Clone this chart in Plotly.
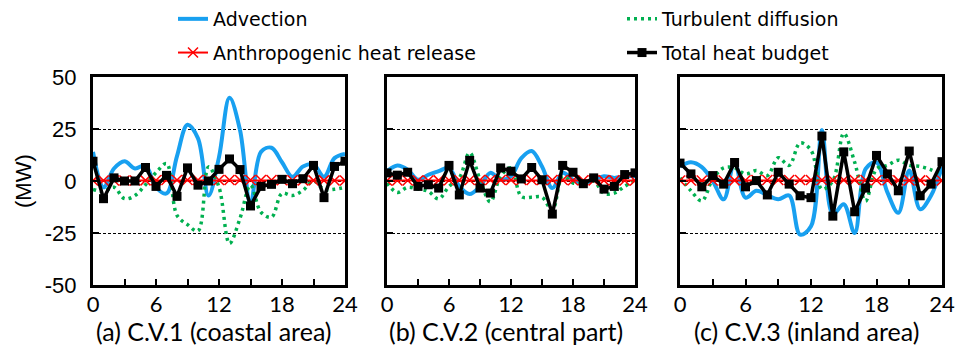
import plotly.graph_objects as go

hours = list(range(25))
x_tick_vals = [0, 3, 6, 9, 12, 15, 18, 21, 24]
x_tick_text = ["0", "", "6", "", "12", "", "18", "", "24"]
y_tick_vals = [-50, -25, 0, 25, 50]
y_tick_text = ["-50", "-25", "0", "25", "50"]

panel_titles = ["(a) C.V.1 (coastal area)", "(b) C.V.2 (central part)", "(c) C.V.3 (inland area)"]

# C.V.1 (coastal area)
adv1 = [14, -3, 6, 9.5, 6, 7.5, -3, -6, 12, 27, 20.5, -7, 11.5, 40, 24.5, -11, 14, 16, 9, 2, 7, 8, 2, 11, 13]
turb1 = [-4, -5, -3, -8.5, -7, -1.8, 4, 8.4, -16.5, -21, -24, 6.8, -3, -30, -18, -2, -15, -17.4, -6, -7, -4.5, 0, -4, -4, -3]
anth1 = [0.2, 0.2, 0.2, 0.2, 0.2, 0.3, 0.4, 0.5, 0.5, 0.5, 0.5, 0.5, 0.5, 0.5, 0.5, 0.5, 0.5, 0.5, 0.4, 0.4, 0.3, 0.3, 0.3, 0.2, 0.2]
total1 = [9.5, -8.5, 1.5, 0, 0, 6.5, -2.6, 2.7, -7.4, 6.3, -2, 0, 5.6, 10.6, 5.5, -12, -2.6, -1.6, 0.8, -1.3, 1.1, 7.5, -8, 7, 9.5]

# C.V.2 (central part)
adv2 = [4.7, 7.5, 5.5, 0.6, 3, 4.7, 6.3, -2.6, -6.3, -2.6, 3.9, 0.6, 2.3, 11, 14.4, 7, -3.4, 3.9, 0.6, -1, 0.6, 2.3, 1.5, 2.3, 2.3]
turb2 = [-1, -5.5, -3, -3.9, -5, -8.6, -2.6, 1.5, 13.6, 0.6, -10, 2.3, 6.3, -7.5, -7.8, -7.8, -14, 2.3, -1, -1, 0, -6, -5.8, -2.6, 0.6]
anth2 = [0.2, 0.2, 0.2, 0.2, 0.2, 0.3, 0.4, 0.5, 0.5, 0.5, 0.5, 0.5, 0.5, 0.5, 0.5, 0.5, 0.5, 0.5, 0.4, 0.4, 0.3, 0.3, 0.3, 0.2, 0.2]
total2 = [3.9, 2.8, 4.2, -2.6, -1.8, -3.4, 7.5, -6.7, 9.9, -3.4, -5.8, 6.3, 4.7, 1, 6.5, 0.6, -15.9, 7.5, 4.2, -1.3, 1.5, -3.9, -2.6, 3.1, 3.9]

# C.V.3 (inland area)
adv3 = [7, 9, 6.7, 0, -8.8, 9, -8, -4.7, -6.8, -8.8, -7, -25.8, -21.8, 24.5, -16, -11.2, -25, 5.8, 9, -5.5, -15.3, 5, -13.6, -7, 6.7]
turb3 = [1.5, -4.7, -9.6, 1, 6.3, 6.3, 3.4, 5, 2.6, 11.2, 7.5, 18.3, 14.8, -3.9, 0, 22.9, 9, -9.6, 5.8, 7.5, 10, 7.5, 7, 5.4, 3]
anth3 = [0.2, 0.2, 0.2, 0.2, 0.2, 0.3, 0.4, 0.5, 0.5, 0.5, 0.5, 0.5, 0.5, 0.5, 0.5, 0.5, 0.5, 0.5, 0.4, 0.4, 0.3, 0.3, 0.3, 0.2, 0.2]
total3 = [8.6, 3.4, -2.8, 2.6, -1.5, 8.9, -2.8, 0.2, -6.7, 4.2, -1.5, -7.1, -8, 21.6, -16.9, 14, -14.8, -3.4, 12.3, 3.4, -4.7, 14.4, -7.1, -1.5, 9.3]

panels = [(adv1, turb1, anth1, total1), (adv2, turb2, anth2, total2), (adv3, turb3, anth3, total3)]

W, H = 957, 356
x_domains = [(93 / W, 345 / W), (387 / W, 635 / W), (680 / W, 942 / W)]
y_domain = ((356 - 285) / H, (356 - 77) / H)

BLUE = "#18A0F0"
GREEN = "#00B050"
RED = "#FF0000"
BLACK = "#000000"

fig = go.Figure()
for i, (adv, turb, anth, tot) in enumerate(panels):
    xa = "x" if i == 0 else f"x{i+1}"
    ya = "y" if i == 0 else f"y{i+1}"
    show = i == 0
    fig.add_trace(go.Scatter(x=hours, y=adv, name="Advection", mode="lines",
                             line=dict(color=BLUE, width=4, shape="spline", smoothing=1),
                             xaxis=xa, yaxis=ya, showlegend=show, legend="legend", legendgroup="a",
                             legendrank=1))
    fig.add_trace(go.Scatter(x=hours, y=turb, name="Turbulent diffusion", mode="lines",
                             line=dict(color=GREEN, width=3.5, dash="3px,4px", shape="spline", smoothing=1),
                             xaxis=xa, yaxis=ya, showlegend=show, legend="legend2", legendgroup="t",
                             legendrank=1))
    fig.add_trace(go.Scatter(x=hours, y=anth, name="Anthropogenic heat release", mode="lines+markers",
                             line=dict(color=RED, width=2),
                             marker=dict(symbol="x-thin", size=10, line=dict(color=RED, width=1.5)),
                             xaxis=xa, yaxis=ya, showlegend=show, legend="legend", legendgroup="h",
                             legendrank=2))
    fig.add_trace(go.Scatter(x=hours, y=tot, name="Total heat budget", mode="lines+markers",
                             line=dict(color=BLACK, width=3.5),
                             marker=dict(symbol="square", size=9, color=BLACK),
                             xaxis=xa, yaxis=ya, showlegend=show, legend="legend2", legendgroup="b",
                             legendrank=2))

layout = dict(
    width=W, height=H,
    margin=dict(l=0, r=0, t=0, b=0, pad=0, autoexpand=False),
    paper_bgcolor="white", plot_bgcolor="white",
    showlegend=True,
    legend=dict(x=173 / W, y=1.0, xanchor="left", yanchor="top", bgcolor="rgba(0,0,0,0)",
                font=dict(family="DejaVu Sans", size=19, color="#000000"), tracegroupgap=6,
                itemwidth=30),
    legend2=dict(x=622 / W, y=1.0, xanchor="left", yanchor="top", bgcolor="rgba(0,0,0,0)",
                 font=dict(family="DejaVu Sans", size=19, color="#000000"), tracegroupgap=6,
                 itemwidth=30),
)

annotations = []
for i in range(3):
    xk = "xaxis" if i == 0 else f"xaxis{i+1}"
    yk = "yaxis" if i == 0 else f"yaxis{i+1}"
    xa = "x" if i == 0 else f"x{i+1}"
    layout[xk] = dict(
        domain=list(x_domains[i]), anchor=xa.replace("x", "y"), range=[0, 24],
        tickmode="array", tickvals=x_tick_vals, ticktext=x_tick_text,
        ticks="inside", ticklen=6, tickwidth=2, tickcolor="black",
        showline=True, linewidth=3, linecolor="black", mirror=True,
        showgrid=False, zeroline=False, automargin=False,
        tickfont=dict(family="Lato", size=22, color="black"),
        ticklabelstandoff=-2,
    )
    layout[yk] = dict(
        domain=list(y_domain), anchor=xa, range=[-50, 50],
        tickmode="array", tickvals=y_tick_vals, ticktext=y_tick_text,
        ticks="inside", ticklen=6, tickwidth=2, tickcolor="black",
        showline=True, linewidth=3, linecolor="black", mirror=True,
        showgrid=True, gridcolor="black", gridwidth=1, griddash="3px,2px",
        zeroline=False, showticklabels=(i == 0), automargin=False,
        tickfont=dict(family="Liberation Sans", size=22, color="black"),
        ticklabelstandoff=9,
    )
    annotations.append(dict(text=panel_titles[i], xref=f"{xa} domain", yref="paper",
                            x=0.5, y=(356 - 331) / H, xanchor="center", yanchor="middle",
                            xshift=-5, showarrow=False,
                            font=dict(family="Lato", size=25, color="black")))

annotations.append(dict(text="(MW)", xref="paper", yref="paper", x=23 / W, y=(356 - 181) / H,
                        xanchor="center", yanchor="middle", textangle=-90, showarrow=False,
                        font=dict(family="Liberation Sans", size=22, color="black")))
layout["annotations"] = annotations

fig.update_layout(**layout)
fig.write_html("out.html", config={"displayModeBar": False},
               post_script="document.body.style.margin='0px';")
